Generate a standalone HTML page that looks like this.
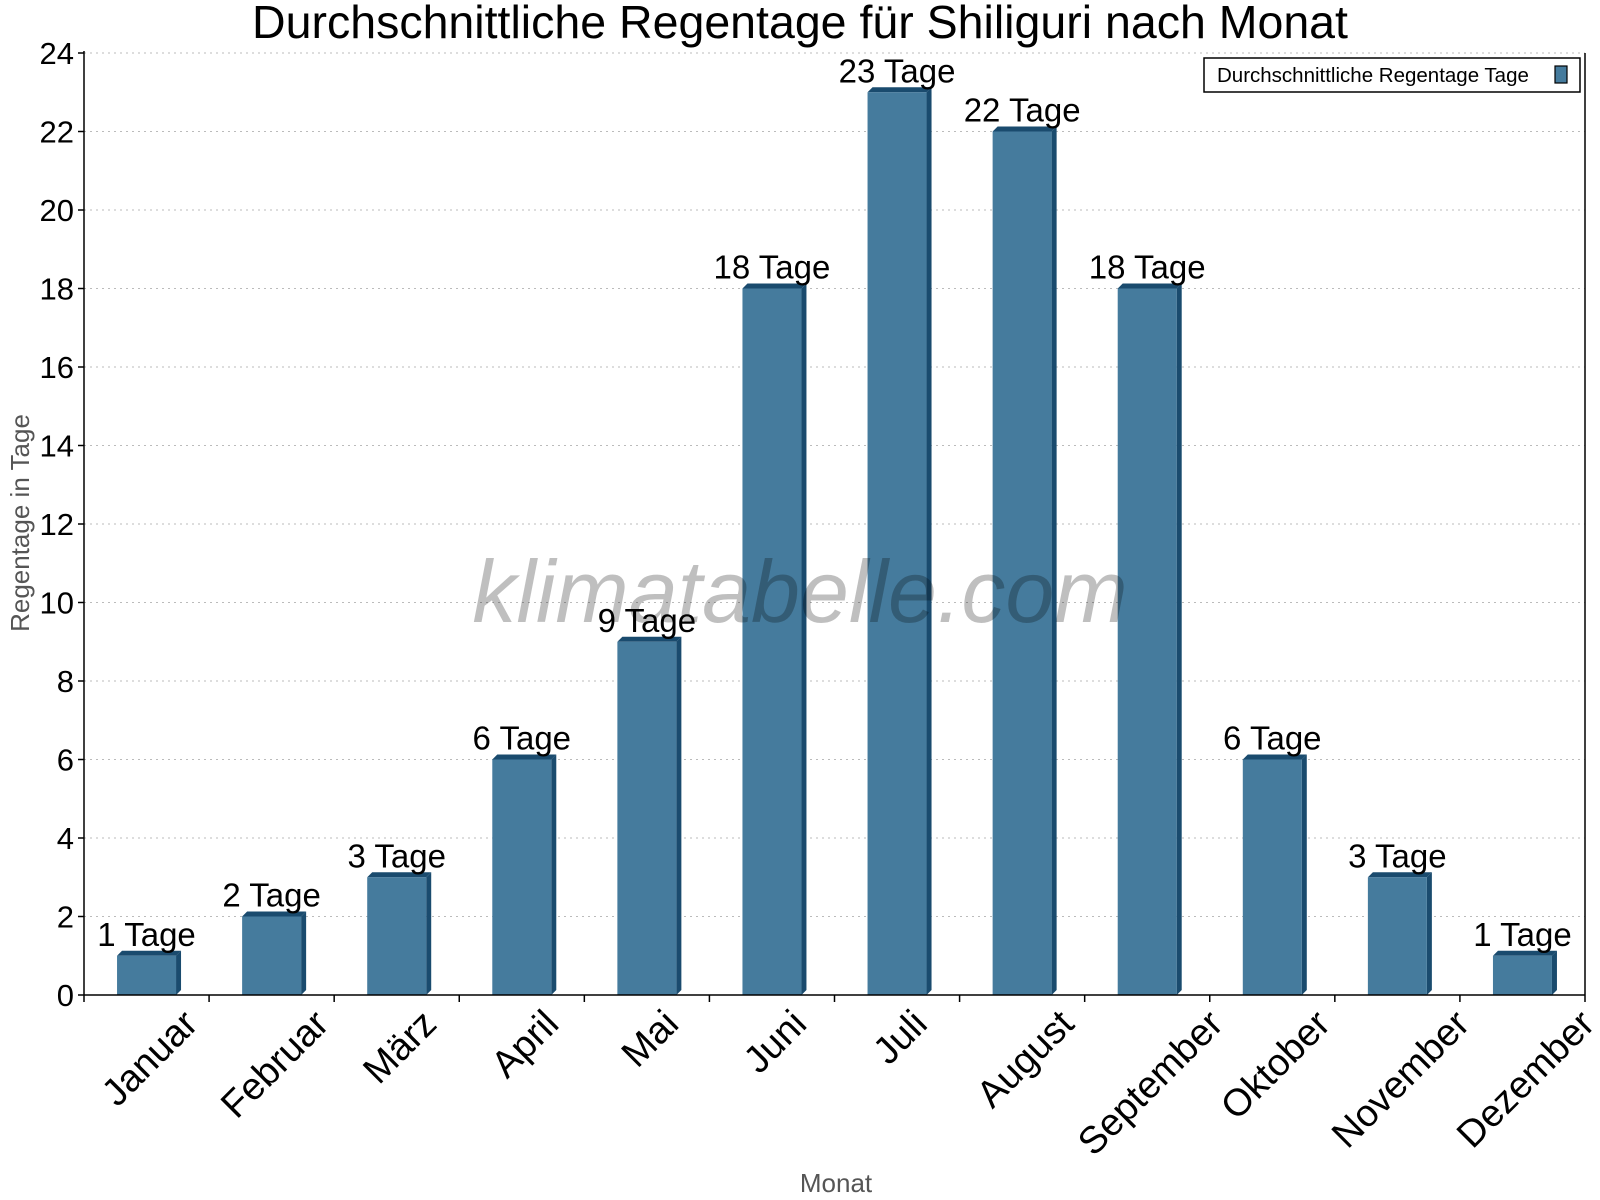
<!DOCTYPE html>
<html><head><meta charset="utf-8"><style>body{margin:0;background:#fff}svg{display:block}</style></head>
<body>
<svg id="c" width="1600" height="1200" xmlns="http://www.w3.org/2000/svg" font-family="Liberation Sans, sans-serif">
<text x="800" y="38" text-anchor="middle" font-size="46.5">Durchschnittliche Regentage für Shiliguri nach Monat</text>
<g id="grid"></g>
<g id="bars"></g>
<text x="800" y="622" text-anchor="middle" font-size="88" font-style="italic" fill="#000" fill-opacity="0.25">klimatabelle.com</text>
<g id="axes"></g>
<text transform="translate(29,523) rotate(-90)" text-anchor="middle" font-size="26" fill="#555">Regentage in Tage</text>
<text x="836" y="1192" text-anchor="middle" font-size="26" fill="#555">Monat</text>
<g>
<rect x="1204" y="58" width="376" height="34" fill="#fff" stroke="#000" stroke-width="1.5"/>
<text x="1217" y="82" font-size="20.5">Durchschnittliche Regentage Tage</text>
<rect x="1555" y="66" width="12" height="17" fill="#457b9d" stroke="#000" stroke-width="1.2"/>
</g>
</svg>
<script>
const months=["Januar","Februar","März","April","Mai","Juni","Juli","August","September","Oktober","November","Dezember"];
const rainDays=[1,2,3,6,9,18,23,22,18,6,3,1];
const yTicks=[0,2,4,6,8,10,12,14,16,18,20,22,24];
const NS="http://www.w3.org/2000/svg";
const X0=84,X1=1585,Y0=995,Y1=53,YMAX=24;
const cw=(X1-X0)/months.length;
const y=v=>Y0-(v/YMAX)*(Y0-Y1);
const xc=i=>X0+cw*(i+0.5);
function mk(t,a,p){const e=document.createElementNS(NS,t);for(const k in a)e.setAttribute(k,a[k]);p.appendChild(e);return e;}
const grid=document.getElementById('grid'),bars=document.getElementById('bars'),axes=document.getElementById('axes');
yTicks.forEach(v=>{
 if(v>0){const g=mk('line',{x1:X0,x2:X1,y1:y(v),y2:y(v),stroke:'#bbb','stroke-dasharray':'2,4'},grid);
 
 }
 const t=mk('line',{x1:X0-6,x2:X0,y1:y(v),y2:y(v),stroke:'#000','stroke-width':1.5},axes);
 
 
 const l=mk('text',{x:X0-10,y:y(v)+11,'text-anchor':'end','font-size':31},axes);
 l.textContent=v;
 
 
});
const bw=59,d=5;
rainDays.forEach((v,i)=>{
 const x=xc(i)-bw/2,top=y(v),g=mk('g',{},bars);
 
 
 mk('polygon',{points:`${x},${top} ${x+d},${top-d} ${x+bw+d},${top-d} ${x+bw},${top}`,fill:'#1a4b6e'},g);
 mk('polygon',{points:`${x+bw},${top} ${x+bw+d},${top-d} ${x+bw+d},${Y0-d} ${x+bw},${Y0}`,fill:'#1a4b6e'},g);
 mk('rect',{x:x,y:top,width:bw,height:Y0-top,fill:'#457b9d'},g);
 const t=mk('text',{x:xc(i),y:top-10,'text-anchor':'middle','font-size':33},bars);
 t.textContent=v+' Tage';
 
 
 const m=mk('text',{'text-anchor':'end','font-size':38},axes);
 m.textContent=months[i];
 
 
 const w=m.getComputedTextLength();
 m.setAttribute('transform',`translate(${xc(i)+12+w*0.354},${Y0+31}) rotate(-45)`);
});
for(let i=0;i<=months.length;i++){
 const xx=X0+cw*i;
 const t=mk('line',{x1:xx,x2:xx,y1:Y0,y2:Y0+7,stroke:'#000','stroke-width':1.5},axes);
 
 
}
const ax=mk('line',{x1:X0,x2:X0,y1:Y1-2,y2:Y0,stroke:'#000','stroke-width':1.5},axes);


const bx=mk('line',{x1:X0,x2:X1,y1:Y0,y2:Y0,stroke:'#000','stroke-width':1.5},axes);


const rx=mk('line',{x1:X1,x2:X1,y1:Y1,y2:Y0,stroke:'#000','stroke-width':1.5},axes);


</script>
</body></html>
